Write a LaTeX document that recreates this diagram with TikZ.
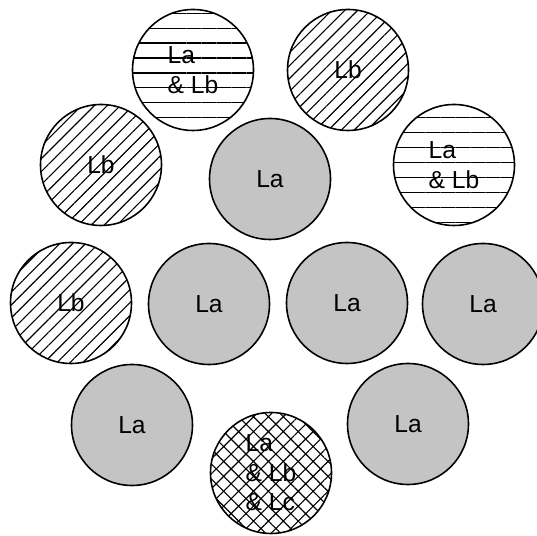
\documentclass[tikz,border=0pt]{standalone}
\usepackage{fontspec}
\setmainfont{Liberation Sans}
\usepackage{tikz}
\usetikzlibrary{patterns.meta}
\usepackage{xcolor}
\definecolor{lagray}{RGB}{196,196,196}
\newcommand{\circfont}{\fontsize{14}{16.8}\selectfont}
\tikzset{
  lacirc/.style={circle,draw=black,line width=0.9pt,minimum size=2.42cm,inner sep=0pt,
    align=left,font=\circfont,fill=lagray},
  lbcirc/.style={lacirc,fill=none,pattern={Lines[angle=45,distance=5.2pt,line width=0.65pt]}},
  labcirc/.style={lacirc,fill=none,pattern={Lines[angle=0,distance=8.5pt,line width=0.65pt]}},
  labccirc/.style={lacirc,fill=none,pattern={Hatch[angle=45,distance=6pt,line width=0.65pt]}}
}

\begin{document}
\begin{tikzpicture}
  \useasboundingbox (0,0) rectangle (10.74,10.72);
  % top row
  \node[labcirc] (ab1) at (3.86,9.32) {La\\\& Lb};
  \node[lbcirc] (b1) at (6.96,9.32) {Lb};
  % second row
  \node[lbcirc] (b2) at (2.02,7.42) {Lb};
  \node[lacirc] (a1) at (5.40,7.14) {La};
  \node[labcirc] (ab2) at (9.08,7.42) {La\\\& Lb};
  % middle row
  \node[lbcirc] (b3) at (1.42,4.66) {Lb};
  \node[lacirc] (a2) at (4.18,4.64) {La};
  \node[lacirc] (a3) at (6.94,4.66) {La};
  \node[lacirc] (a4) at (9.66,4.64) {La};
  % bottom
  \node[lacirc] (a5) at (2.64,2.22) {La};
  \node[labccirc] (abc) at (5.42,1.26) {La\\\& Lb\\\& Lc};
  \node[lacirc] (a6) at (8.16,2.24) {La};
\end{tikzpicture}
\end{document}
